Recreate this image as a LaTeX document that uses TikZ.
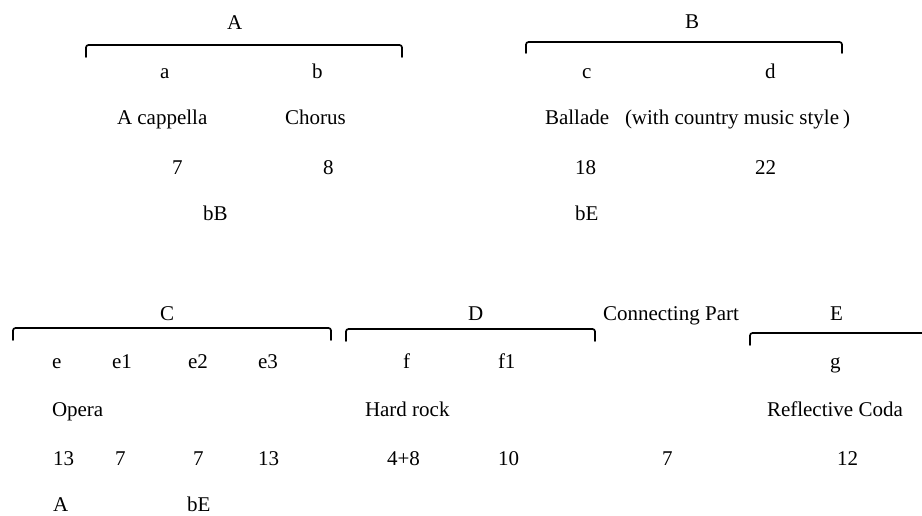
\documentclass[tikz,border=0pt]{standalone}
\usepackage{fontspec}
\setmainfont{Liberation Serif}
\begin{document}
\begin{tikzpicture}[x=1pt,y=-1pt,
  lbl/.style={anchor=base west,inner sep=0pt,outer sep=0pt,font=\fontsize{21}{25}\selectfont},
  brace/.style={line width=1.7pt,rounded corners=2.5pt,line cap=round}]
\useasboundingbox (0,0) rectangle (922,515);

% ---- section A ----
\node[lbl] (tA) at (227,29) {A};
\draw[brace] (86,57) -- (86,45) -- (402,45) -- (402,57);
\node[lbl] (a) at (160,78) {a};
\node[lbl] (b) at (312,78) {b};
\node[lbl] (acap) at (117,124) {A cappella};
\node[lbl] (chor) at (285,124) {Chorus};
\node[lbl] (n7a) at (172,174) {7};
\node[lbl] (n8) at (323,174) {8};
\node[lbl] (bB) at (203,220) {bB};

% ---- section B ----
\node[lbl] (tB) at (685,28) {B};
\draw[brace] (526,53) -- (526,42) -- (842,42) -- (842,53);
\node[lbl] (c) at (582,78) {c};
\node[lbl] (d) at (765,78) {d};
\node[lbl] (ball) at (545,124) {Ballade};
\node[lbl] (style) at (625,124) {(with country music style\hspace{4pt})};
\node[lbl] (n18) at (575,174) {18};
\node[lbl] (n22) at (755,174) {22};
\node[lbl] (bE1) at (575,220) {bE};

% ---- section C ----
\node[lbl] (tC) at (160,320) {C};
\draw[brace] (13,340) -- (13,328) -- (331,328) -- (331,340);
\node[lbl] (e) at (52,368) {e};
\node[lbl] (e1) at (112,368) {e1};
\node[lbl] (e2) at (188,368) {e2};
\node[lbl] (e3) at (258,368) {e3};
\node[lbl] (opera) at (52,416) {Opera};
\node[lbl] (n13a) at (53,465) {13};
\node[lbl] (n7b) at (115,465) {7};
\node[lbl] (n7c) at (193,465) {7};
\node[lbl] (n13b) at (258,465) {13};
\node[lbl] (cA) at (53,511) {A};
\node[lbl] (bE2) at (187,511) {bE};

% ---- section D ----
\node[lbl] (tD) at (468,320) {D};
\draw[brace] (346,341) -- (346,329) -- (595,329) -- (595,341);
\node[lbl] (f) at (403,368) {f};
\node[lbl] (f1) at (498,368) {f1};
\node[lbl] (hard) at (365,416) {Hard rock};
\node[lbl] (n48) at (387,465) {4+8};
\node[lbl] (n10) at (498,465) {10};

% ---- connecting part ----
\node[lbl] (conn) at (603,320) {Connecting Part};
\node[lbl] (n7d) at (662,465) {7};

% ---- section E ----
\node[lbl] (tE) at (830,320) {E};
\draw[brace] (750,345) -- (750,333) -- (925,333);
\node[lbl] (g) at (830,368) {g};
\node[lbl] (coda) at (767,416) {Reflective Coda};
\node[lbl] (n12) at (837,465) {12};
\end{tikzpicture}
\end{document}
